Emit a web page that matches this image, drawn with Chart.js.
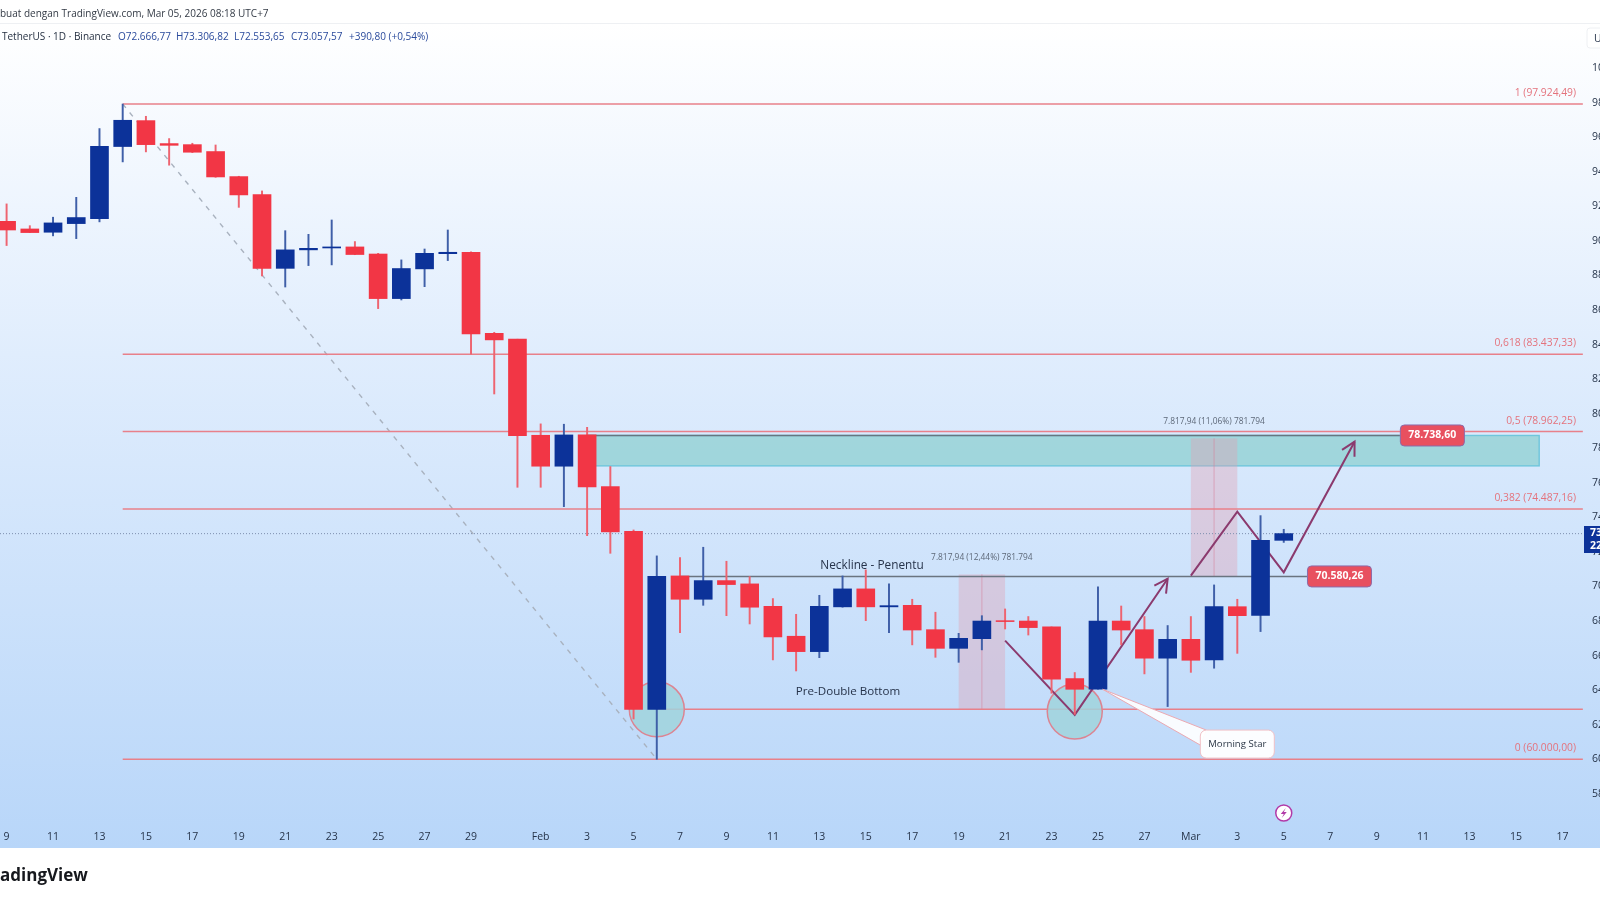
<!DOCTYPE html>
<html><head><meta charset="utf-8">
<style>html,body{margin:0;padding:0;background:#fff;width:1600px;height:900px;overflow:hidden}
#wrap{position:absolute;left:0;top:0;width:1700px;height:900px;filter:blur(.35px)}</style>
<script src="https://cdn.jsdelivr.net/npm/chart.js@4/dist/chart.umd.min.js"></script>
</head><body><div id="wrap"><canvas id="c" width="1700" height="900"></canvas></div>
<script>
// day index: 0 = Jan 9, 23 = Feb 1, 51 = Mar 1
const opens=[91.13,90.69,90.50,91.00,91.29,95.46,96.96,95.63,95.57,95.17,93.72,92.68,88.41,89.48,89.59,89.65,89.24,86.66,88.38,89.26,89.34,84.65,84.31,78.75,76.96,78.77,75.78,73.19,62.89,70.61,69.26,70.34,70.15,68.85,67.12,66.23,68.82,69.86,68.82,68.91,67.50,66.42,66.98,68.02,68.00,67.66,64.67,64.05,68.00,67.50,65.85,66.94,65.75,68.83,68.33,72.67];
const closes=[90.63,90.48,91.04,91.35,95.47,96.98,95.57,95.53,95.13,93.70,92.66,88.41,89.48,89.57,89.65,89.21,86.66,88.40,89.28,89.34,84.61,84.27,78.73,76.96,78.77,75.76,73.16,62.89,70.59,69.26,70.34,70.11,68.80,67.08,66.23,68.85,69.86,68.82,68.89,67.48,66.42,67.00,68.00,67.97,67.62,64.63,64.05,68.00,67.48,65.85,66.94,65.73,68.83,68.31,72.67,73.06];
const highs=[92.14,90.88,91.37,92.52,96.50,97.92,97.21,95.92,95.65,95.55,93.74,92.89,90.59,90.38,91.21,89.96,89.28,88.90,89.53,90.63,89.36,84.71,84.31,79.41,79.39,79.21,76.94,73.27,71.77,71.67,72.27,71.46,70.57,69.30,68.39,69.49,70.61,70.96,70.15,69.26,68.51,67.29,68.31,68.70,68.26,67.66,65.02,69.98,68.87,68.26,67.74,68.26,70.09,69.26,74.10,73.31];
const lows=[89.73,90.48,90.29,90.13,91.10,94.57,95.15,94.38,95.11,93.68,91.94,87.97,87.33,88.57,88.61,89.20,86.08,86.58,87.35,88.86,83.44,81.14,75.74,75.74,74.62,72.94,71.92,62.33,60.00,67.33,68.91,68.31,67.83,65.75,65.11,65.88,68.80,68.02,67.33,66.62,65.90,65.61,66.33,67.54,67.19,63.82,62.60,64.05,66.62,64.94,63.05,65.03,65.27,66.13,67.39,72.55];
const xTickDays=[0,2,4,6,8,10,12,14,16,18,20,23,25,27,29,31,33,35,37,39,41,43,45,47,49,51,53,55,57,59,61,63,65,67];
const xTickLabels=["9","11","13","15","17","19","21","23","25","27","29","Feb","3","5","7","9","11","13","15","17","19","21","23","25","27","Mar","3","5","7","9","11","13","15","17"];
const yTickValues=[58,60,62,64,66,68,70,72,74,76,78,80,82,84,86,88,90,92,94,96,98,100];
const fibLevels=[97.92449,83.43733,78.96225,74.48716,60];
const fibLabels=["1 (97.924,49)","0,618 (83.437,33)","0,5 (78.962,25)","0,382 (74.487,16)","0 (60.000,00)"];
const lastPrice=73.05757;
const doubleBottom=62.89, neckline=70.58026, zoneTop=78.7386, zoneBottom=76.98;
const pathDown=[[43,66.87],[46,62.57],[50,70.45]];
const pathUp=[[51,70.63],[53,74.33],[55,70.82],[58.05,78.38]];
const measures=[[41,43,62.89,70.7,"7.817,94 (12,44%) 781.794"],[51,53,70.58,78.57,"7.817,94 (11,06%) 781.794"]];
const circles=[[28,62.89],[46,62.76]];
const xMin=-0.284,xMax=67.93,yMin=56.37,yMax=103.94;

const red='#f23645',navy='#0c3299',redW='#ee6470',navyW='#3f5fa8',fibC='#e8808a';
const up=closes.map((c,i)=>c>=opens[i]);
const xy=a=>a.map(p=>({x:p[0],y:p[1]}));
const hline=(x0,x1,y,c,w,dash,o=5)=>({type:'line',data:[{x:x0,y},{x:x1,y}],borderColor:c,borderWidth:w,borderDash:dash||[],pointRadius:0,order:o});
const ds=[
 {type:'bar',data:opens.map((o,i)=>({x:i,y:[o,closes[i]]})),backgroundColor:up.map(u=>u?navy:red),barThickness:18,grouped:false,order:0},
 {type:'bar',data:lows.map((l,i)=>({x:i,y:[l,highs[i]]})),backgroundColor:up.map(u=>u?navyW:redW),barThickness:1.3,grouped:false,order:1},
 ...circles.map(c=>({type:'line',data:[{x:c[0],y:c[1]}],showLine:false,pointRadius:27.5,pointBackgroundColor:'rgba(160,212,220,.85)',pointBorderColor:'#dc8492',pointBorderWidth:1.5,order:4})),
 ...fibLevels.map(l=>hline(5,xMax-.05,l,fibC,1.5)),
 hline(xMin,xMax,lastPrice,'#7d8fae',1,[1,2]),
 hline(28,xMax-.05,doubleBottom,fibC,1.5),
 hline(29,56,neckline,'#6a7480',1.6),
 hline(25,60,zoneTop,'#667680',1.6),
 {type:'line',data:xy([[5,97.92449],[28,60]]),borderColor:'#a9b2bf',borderWidth:1.4,borderDash:[5,6],pointRadius:0,order:6},
 {type:'line',data:xy(pathDown),borderColor:'#8b3a6e',borderWidth:2,pointRadius:0,order:3,arrow:true},
 {type:'line',data:xy(pathUp),borderColor:'#8b3a6e',borderWidth:2,pointRadius:0,order:3,arrow:true},
];
function rr(ctx,x,y,w,h,r,fill,stroke,lw){ctx.beginPath();ctx.roundRect(x,y,w,h,r);if(fill){ctx.fillStyle=fill;ctx.fill();}if(stroke){ctx.strokeStyle=stroke;ctx.lineWidth=lw||1;ctx.stroke();}}
function txt(ctx,t,x,y,font,color,align){ctx.font=font;ctx.fillStyle=color;ctx.textAlign=align||'left';ctx.textBaseline='middle';ctx.fillText(t,x,y);}
const F='"Open Sans","Noto Sans",sans-serif';
const deco={id:'deco',
 afterLayout(ch){const x=ch.scales.x,y=ch.scales.y,a=ch.chartArea;const r=a.right,b=a.bottom;
  a.left=0;a.width=r;x.left=0;x.right=r;x.width=r;x.configure();
  a.top=0;a.height=b;y.top=0;y.bottom=b;y.height=b;y.configure();},
 beforeDraw(ch){const c=ch.ctx;c.save();c.fillStyle='#fff';c.fillRect(0,0,1700,900);
  const g=c.createLinearGradient(0,24,0,848);g.addColorStop(0,'#ffffff');g.addColorStop(.4,'#e0edfd');g.addColorStop(1,'#b8d6f9');
  c.fillStyle=g;c.fillRect(0,24,1700,824);c.fillStyle='#eef0f3';c.fillRect(0,23,1700,1);c.restore();},
 beforeDatasetsDraw(ch){const c=ch.ctx,X=ch.scales.x,Y=ch.scales.y;c.save();
  const zx0=X.getPixelForValue(25),zx1=X.getPixelForValue(66),zy0=Y.getPixelForValue(zoneTop),zy1=Y.getPixelForValue(zoneBottom);
  c.fillStyle='rgba(150,210,214,.85)';c.fillRect(zx0,zy0,zx1-zx0,zy1-zy0);c.strokeStyle='#6fc6dc';c.lineWidth=1.4;c.strokeRect(zx0,zy0,zx1-zx0,zy1-zy0);
  measures.forEach(m=>{const a=X.getPixelForValue(m[0]),b=X.getPixelForValue(m[1]),t=Y.getPixelForValue(m[3]),u=Y.getPixelForValue(m[2]);
   c.fillStyle='rgba(226,160,180,.38)';c.fillRect(a,t,b-a,u-t);c.strokeStyle='rgba(214,130,155,.55)';c.lineWidth=1;c.beginPath();c.moveTo((a+b)/2,t);c.lineTo((a+b)/2,u);c.stroke();
   txt(c,m[4],(a+b)/2,t-17,'8.4px '+F,'#5d6878','center');});
  c.restore();},
 afterDatasetsDraw(ch){const c=ch.ctx,X=ch.scales.x,Y=ch.scales.y;c.save();
  ch.data.datasets.filter(d=>d.arrow).forEach(d=>{const n=d.data.length,p=d.data[n-1],q=d.data[n-2];
   const x1=X.getPixelForValue(p.x),y1=Y.getPixelForValue(p.y),x0=X.getPixelForValue(q.x),y0=Y.getPixelForValue(q.y);
   const a=Math.atan2(y1-y0,x1-x0),L=15;c.strokeStyle=d.borderColor;c.lineWidth=2;c.beginPath();
   c.moveTo(x1+L*Math.cos(a+2.65),y1+L*Math.sin(a+2.65));c.lineTo(x1,y1);c.lineTo(x1+L*Math.cos(a-2.65),y1+L*Math.sin(a-2.65));c.stroke();});
  // callout
  const ax=X.getPixelForValue(47.2),ay=Y.getPixelForValue(64.05),bx=X.getPixelForValue(53),by=Y.getPixelForValue(60.88);
  c.beginPath();c.moveTo(ax,ay);c.lineTo(bx-31,by-14);c.lineTo(bx-37,by+1);c.closePath();c.fillStyle='rgba(255,255,255,.9)';c.fill();c.strokeStyle='#eba9b2';c.lineWidth=1;c.stroke();
  rr(c,bx-37,by-14,74,28,6,'rgba(255,255,255,.95)','#f0c0c6',1);
  txt(c,'Morning Star',bx,by,'9.6px '+F,'#2b3646','center');
  // fib labels
  fibLevels.forEach((l,i)=>txt(c,fibLabels[i],1576,Y.getPixelForValue(l)-11,'10.3px '+F,'#e4737d','right'));
  txt(c,'Neckline - Penentu',872,566,'11.8px '+F,'#26334a','center');
  txt(c,'Pre-Double Bottom',848,692,'11.6px '+F,'#26334a','center');
  [[61.4,zoneTop,'78.738,60'],[57.4,neckline,'70.580,26']].forEach(b=>{const x=X.getPixelForValue(b[0]),y=Y.getPixelForValue(b[1]);
   rr(c,x-32,y-10.5,64,21,4,'#e8505f','#8d6aa8',1);txt(c,b[2],x,y,'bold 10.5px '+F,'#fff','center');});
  // price tag
  c.fillStyle=navy;c.fillRect(1584,526,120,27);
  txt(c,'73.057,57',1590,533,'bold 10.5px '+F,'#fff');txt(c,'22:41:08',1590,546,'bold 10.5px '+F,'#fff');
  // alert icon
  const ix=X.getPixelForValue(55),iy=813;c.beginPath();c.arc(ix,iy,8,0,7);c.fillStyle='#fff';c.fill();c.strokeStyle='#b23aa8';c.lineWidth=1.5;c.stroke();
  c.beginPath();c.moveTo(ix+2,iy-5);c.lineTo(ix-3,iy+1);c.lineTo(ix,iy+1);c.lineTo(ix-2,iy+5);c.lineTo(ix+3,iy-1);c.lineTo(ix,iy-1);c.closePath();c.fillStyle='#b23aa8';c.fill();
  // header
  txt(c,'buat dengan TradingView.com, Mar 05, 2026 08:18 UTC+7',0,13.7,'10px '+F,'#333a45');
  txt(c,'TetherUS · 1D · Binance',2,36.7,'10px '+F,'#1f2a3c');
  [['O72.666,77',118],['H73.306,82',176],['L72.553,65',234],['C73.057,57',291],['+390,80 (+0,54%)',349]].forEach(t=>txt(c,t[0],t[1],36.7,'10px '+F,'#2a4a9c'));
  rr(c,1587,28,60,20,3,'#fff','#eef0f3',1);txt(c,'USDT',1594,38.7,'10.5px '+F,'#26334a');
  // footer
  txt(c,'adingView',0,876,'bold 17px '+F,'#16181d');
  c.restore();}
};
new Chart(document.getElementById('c'),{type:'bar',data:{datasets:ds},plugins:[deco],options:{
 responsive:false,animation:false,devicePixelRatio:1,
 layout:{padding:0},
 plugins:{legend:{display:false},tooltip:{enabled:false},title:{display:false}},
 scales:{
  x:{type:'linear',min:xMin,max:xMax,offset:false,grid:{display:false,drawTicks:false},border:{display:false},
   afterBuildTicks:s=>{s.ticks=xTickDays.map(v=>({value:v}));},
   ticks:{autoSkip:false,maxRotation:0,padding:9,color:'#26344a',font:{size:10.5,family:F},callback:v=>xTickLabels[xTickDays.indexOf(v)]},
   afterFit:s=>{s.height=78;s.paddingLeft=0;s.paddingRight=0;}},
  y:{position:'right',min:yMin,max:yMax,grid:{display:false,drawTicks:false},border:{display:false},
   afterBuildTicks:s=>{s.ticks=yTickValues.map(v=>({value:v}));},
   ticks:{autoSkip:false,padding:8,color:'#26344a',font:{size:10.5,family:F},callback:v=>v.toFixed(0)+'.000,00'},
   afterFit:s=>{s.width=116;s.paddingTop=0;s.paddingBottom=0;}}
 }}});
</script></body></html>
